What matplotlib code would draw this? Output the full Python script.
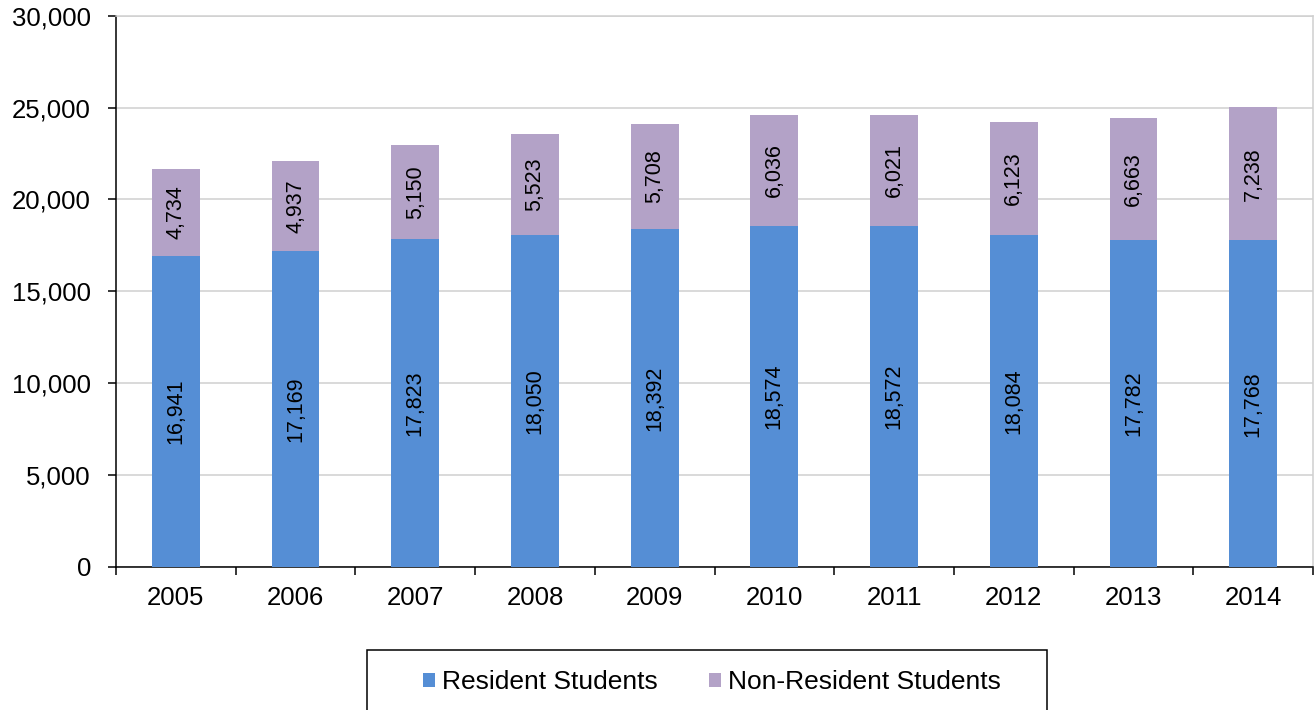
import matplotlib
matplotlib.use("Agg")
import matplotlib.pyplot as plt
from matplotlib.patches import Rectangle
import numpy as np

years = ["2005", "2006", "2007", "2008", "2009", "2010", "2011", "2012", "2013", "2014"]
resident = [16941, 17169, 17823, 18050, 18392, 18574, 18572, 18084, 17782, 17768]
non_resident = [4734, 4937, 5150, 5523, 5708, 6036, 6021, 6123, 6663, 7238]
yticks = [0, 5000, 10000, 15000, 20000, 25000, 30000]

plt.rcParams['font.family'] = ['Liberation Sans', 'DejaVu Sans']

W, H = 1315, 710
fig = plt.figure(figsize=(W/100, H/100), dpi=100)
left, right = 116/W, 1313/W
bottom, top = 1-567/H, 1-15.7/H
ax = fig.add_axes([left, bottom, right-left, top-bottom])

blue = '#558ED5'
purple = '#B3A2C7'
x = np.arange(len(years))
bw = 0.40
b1 = ax.bar(x, resident, width=bw, color=blue, zorder=3, label='Resident Students')
b2 = ax.bar(x, non_resident, width=bw, bottom=resident, color=purple, zorder=3, label='Non-Resident Students')

ax.bar_label(b1, labels=[f"{v:,}" for v in resident], label_type='center', rotation=90, fontsize=15.5, color='black')
ax.bar_label(b2, labels=[f"{v:,}" for v in non_resident], label_type='center', rotation=90, fontsize=15.5, color='black')

ax.set_xlim(-0.5, len(years)-0.5)
ax.set_ylim(0, 30000)
ax.set_yticks(yticks)
ax.set_yticklabels([f"{v:,}" for v in yticks], fontsize=18.5)
ax.tick_params(axis='y', length=6, width=1.1, direction='out', pad=12)

ax.set_xticks(x)
ax.set_xticklabels(years, fontsize=18.5)
ax.set_xticks(np.arange(-0.5, len(years), 1.0), minor=True)
ax.tick_params(axis='x', which='major', length=0, pad=14)
ax.tick_params(axis='x', which='minor', length=6, width=1.1, direction='out')

ax.yaxis.grid(True, color='#D0D0D0', linewidth=1.1, zorder=0)
ax.set_axisbelow(True)
for s in ['top', 'right']:
    ax.spines[s].set_color('#D0D0D0')
    ax.spines[s].set_linewidth(1.1)
for s in ['left', 'bottom']:
    ax.spines[s].set_color('black')
    ax.spines[s].set_linewidth(1.1)

# legend box
fig.patches.append(Rectangle((367/W, -0.05), (1047-367)/W, (1-650/H)+0.05,
                             transform=fig.transFigure, facecolor='white',
                             edgecolor='black', linewidth=1.1, zorder=1))
leg = fig.legend(handles=[b1, b2], loc='center left', bbox_to_anchor=(423/W, 1-682/H),
                 ncol=2, fontsize=19, frameon=False,
                 handlelength=0.45, handleheight=0.45, handletextpad=0.27,
                 columnspacing=1.95, borderpad=0, borderaxespad=0)
leg.set_zorder(2)

fig.savefig("out.png", dpi=100)
